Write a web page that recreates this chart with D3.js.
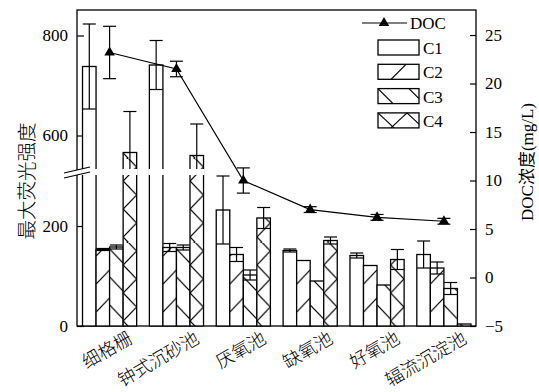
<!DOCTYPE html>
<html><head><meta charset="utf-8">
<script src="https://cdn.jsdelivr.net/npm/d3@7"></script>
<style>
html,body{margin:0;padding:0;background:#fff;}
svg{display:block;}
text{font-family:"Liberation Serif","Noto Sans CJK SC",serif;fill:#000;}
</style></head>
<body>
<script>
const categories = ["细格栅","钟式沉砂池","厌氧池","缺氧池","好氧池","辐流沉淀池"];
const seriesNames = ["C1","C2","C3","C4"];
const C1 = [738,741,232,151,141,143];
const C1err = [85,49,68,3,5,27];
const C2 = [153,157,143,131,121,116];
const C2err = [2,8,14,0,0,12];
const C3 = [158,157,102,90,82,75];
const C3err = [4,5,10,0,0,12];
const C4 = [566,560,216,171,133,4];
const C4err = [82,63,21,7,20,0];
const DOC = [23.2,21.5,10.0,7.0,6.2,5.8];
const DOCerr = [2.7,0.8,1.3,0.3,0.3,0.3];
const leftTicks = [0,200,600,800];
const rightTicks = [-5,0,5,10,15,20,25];
const leftTitle = "最大荧光强度";
const rightTitle = "DOC浓度(mg/L)";

const series = [C1,C2,C3,C4];
const seriesErr = [C1err,C2err,C3err,C4err];

const W=539,H=392;
const L=77,R=476,T=10,B=326;
const yb=172; // break position
const svg=d3.select("body").append("svg").attr("width",W).attr("height",H);
const defs=svg.append("defs");

const x0=d3.scaleBand().domain(categories).range([76.5,477]).paddingInner(0.19).paddingOuter(0.09);
const x1=d3.scaleBand().domain(seriesNames).range([0,x0.bandwidth()]);
const bw=x1.bandwidth();
const yL=d3.scaleLinear().domain([0,308,527,851]).range([B,yb,yb,T]);
const yR=d3.scaleLinear().domain([-5,27.58]).range([B,T]);

// frame
svg.append("rect").attr("x",L).attr("y",T).attr("width",R-L).attr("height",B-T)
  .attr("fill","none").attr("stroke","#000").attr("stroke-width",1.3);

// axes
const gl=svg.append("g").attr("transform",`translate(${L},0)`)
  .call(d3.axisLeft(yL).tickValues(leftTicks).tickSizeInner(-7).tickSizeOuter(0).tickPadding(9));
gl.select(".domain").remove();
gl.selectAll("line").attr("stroke","#000").attr("stroke-width",1.2);
gl.selectAll("text").style("font-size","17px").style("font-family","Liberation Serif");
const gr=svg.append("g").attr("transform",`translate(${R},0)`)
  .call(d3.axisRight(yR).tickValues(rightTicks).tickSizeInner(-6).tickSizeOuter(0).tickPadding(9).tickFormat(d=>d<0?"\u2212"+Math.abs(d):d));
gr.select(".domain").remove();
gr.selectAll("line").attr("stroke","#000").attr("stroke-width",1.2);
gr.selectAll("text").style("font-size","17px").style("font-family","Liberation Serif");

// patterns per bar
const P=28;
function makePattern(id,si,bx){
  const p=defs.append("pattern").attr("id",id).attr("patternUnits","userSpaceOnUse")
    .attr("x",bx).attr("y",B).attr("width",bw).attr("height",P);
  const ln=(a,b,c,d)=>p.append("line").attr("x1",a).attr("y1",b).attr("x2",c).attr("y2",d)
    .attr("stroke","#000").attr("stroke-width",1.2);
  if(si===1){ ln(0,14,bw,0); ln(0,14+P,bw,P); }
  if(si===2){ ln(0,7,bw,21); }
  if(si===3){ ln(0,23,bw,9); ln(0,-5,bw,9); ln(0,23,bw,37); }
}

const gBars=svg.append("g");
categories.forEach((c,ci)=>{
  seriesNames.forEach((s,si)=>{
    const v=series[si][ci];
    const bx=x0(c)+x1(s);
    const y=yL(v);
    gBars.append("rect").attr("x",bx).attr("y",y).attr("width",bw).attr("height",B-y).attr("fill","#fff");
    if(si>0){
      const id=`pat-${ci}-${si}`;
      makePattern(id,si,bx);
      gBars.append("rect").attr("x",bx).attr("y",y).attr("width",bw).attr("height",B-y).attr("fill",`url(#${id})`);
    }
    gBars.append("rect").attr("x",bx).attr("y",y).attr("width",bw).attr("height",B-y)
      .attr("fill","none").attr("stroke","#000").attr("stroke-width",1.3);
  });
});
// error bars
const gErr=svg.append("g").attr("stroke","#000").attr("stroke-width",1.2);
categories.forEach((c,ci)=>{
  seriesNames.forEach((s,si)=>{
    const v=series[si][ci], e=seriesErr[si][ci];
    if(!e) return;
    const cx=x0(c)+x1(s)+bw/2;
    const y1=yL(v+e), y2=yL(v-e);
    gErr.append("line").attr("x1",cx).attr("x2",cx).attr("y1",y1).attr("y2",y2);
    gErr.append("line").attr("x1",cx-6.5).attr("x2",cx+6.5).attr("y1",y1).attr("y2",y1);
    gErr.append("line").attr("x1",cx-6.5).attr("x2",cx+6.5).attr("y1",y2).attr("y2",y2);
  });
});
// break gaps
categories.forEach((c,ci)=>{
  seriesNames.forEach((s,si)=>{
    const v=series[si][ci];
    if(v>308){
      const bx=x0(c)+x1(s);
      svg.append("rect").attr("x",bx-1).attr("y",yb-3).attr("width",bw+2).attr("height",6).attr("fill","#fff");
    }
  });
});
svg.append("rect").attr("x",L-3).attr("y",yb-2).attr("width",6).attr("height",5).attr("fill","#fff");
svg.append("line").attr("x1",64).attr("y1",yb+1).attr("x2",90).attr("y2",yb-5).attr("stroke","#000").attr("stroke-width",1.2);
svg.append("line").attr("x1",64).attr("y1",yb+6).attr("x2",90).attr("y2",yb).attr("stroke","#000").attr("stroke-width",1.2);

// DOC line
const cxOf=c=>x0(c)+x0.bandwidth()/2;
const line=d3.line().x((d,i)=>cxOf(categories[i])).y(d=>yR(d));
svg.append("path").datum(DOC).attr("d",line).attr("fill","none").attr("stroke","#000").attr("stroke-width",1.2);
const gD=svg.append("g").attr("stroke","#000").attr("stroke-width",1.2);
DOC.forEach((v,i)=>{
  const cx=cxOf(categories[i]), e=DOCerr[i];
  const y1=yR(v+e), y2=yR(v-e);
  gD.append("line").attr("x1",cx).attr("x2",cx).attr("y1",y1).attr("y2",y2);
  gD.append("line").attr("x1",cx-6.5).attr("x2",cx+6.5).attr("y1",y1).attr("y2",y1);
  gD.append("line").attr("x1",cx-6.5).attr("x2",cx+6.5).attr("y1",y2).attr("y2",y2);
});
svg.append("g").selectAll("path").data(DOC).join("path")
  .attr("transform",(d,i)=>`translate(${cxOf(categories[i])},${yR(d)})`)
  .attr("d",d3.symbol(d3.symbolTriangle,48)).attr("fill","#000");

// x labels
svg.append("g").selectAll("text").data(categories).join("text")
  .attr("transform",c=>`translate(${cxOf(c)+24},342) rotate(-30)`)
  .attr("text-anchor","end").style("font-size","18px")
  .style("font-family","Noto Sans CJK SC").style("font-weight","300").text(d=>d);

// titles
svg.append("text").attr("transform","translate(34,181) rotate(-90)").attr("text-anchor","middle")
  .style("font-size","19.5px").style("font-family","Noto Sans CJK SC").style("font-weight","300").text(leftTitle);
svg.append("text").attr("transform","translate(533,162) rotate(-90)").attr("text-anchor","middle")
  .style("font-size","17px").text(rightTitle);

// legend
const lg=svg.append("g");
lg.append("line").attr("x1",362).attr("x2",407).attr("y1",23).attr("y2",23).attr("stroke","#000").attr("stroke-width",1.2);
lg.append("path").attr("transform","translate(384,23)").attr("d",d3.symbol(d3.symbolTriangle,48)).attr("fill","#000");
lg.append("text").attr("x",410).attr("y",29).style("font-size","17px").text("DOC");
const lx=378,lw=41,lh=15;
seriesNames.forEach((s,si)=>{
  const ly=40+24.3*si;
  const gg=lg.append("g").attr("transform",`translate(${lx},${ly})`);
  const ln=(a,b,c,d)=>gg.append("line").attr("x1",a).attr("y1",b).attr("x2",c).attr("y2",d).attr("stroke","#000").attr("stroke-width",1.2);
  if(si===1){ ln(13,lh,28,0); }
  if(si===2){ ln(0,0,lh,lh); ln(31,0,lw,lh*(lw-31)/lh); }
  if(si===3){ ln(0,0,16,lh); ln(13,lh,29,0); ln(29,0,lw,lh*(lw-29)/16); }
  gg.append("rect").attr("width",lw).attr("height",lh).attr("fill","none").attr("stroke","#000").attr("stroke-width",1.3);
  lg.append("text").attr("x",lx+lw+4).attr("y",ly+lh-1).style("font-size","17px").text(s);
});
</script>
</body></html>
